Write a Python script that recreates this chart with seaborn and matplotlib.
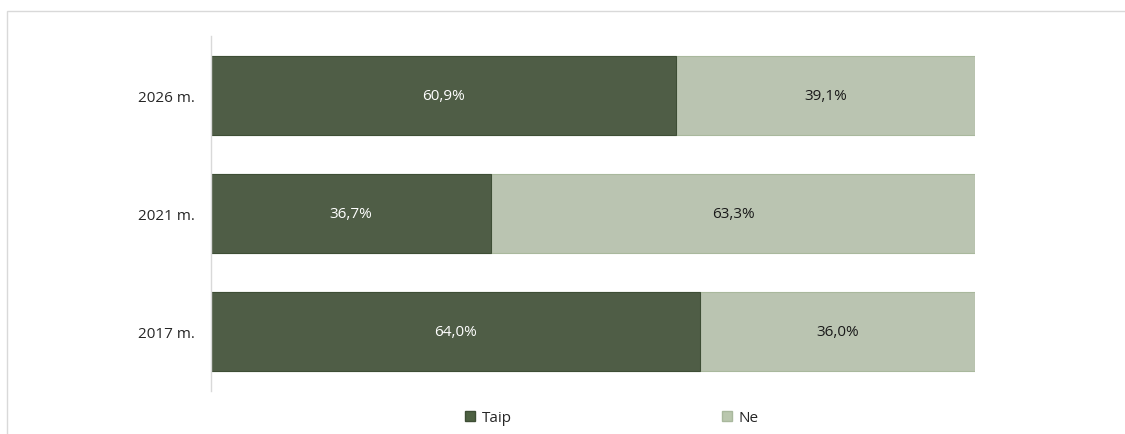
import pandas as pd
import matplotlib.pyplot as plt
import seaborn as sns
from matplotlib.patches import Patch, Rectangle

# Datos (en %)
metai = ['2026 m.', '2021 m.', '2017 m.']
taip = [60.9, 36.7, 64.0]
ne = [39.1, 63.3, 36.0]

tamsi = '#4e6142'
sviesi = '#bac7ae'

df = pd.DataFrame({'Metai': metai, 'Taip': taip, 'Ne': ne})
df['Viso'] = df['Taip'] + df['Ne']

sns.set_style('white')
plt.rcParams['font.family'] = ['Open Sans', 'DejaVu Sans']

fig = plt.figure(figsize=(11.25, 4.35), dpi=100)
ax = fig.add_axes([0.1876, 0.0989, 0.6791, 0.816])

# Apilamos: primero el total (Ne), luego Taip encima
sns.barplot(data=df, y='Metai', x='Viso', color=sviesi, orient='h', width=0.667,
            edgecolor='#a9b89d', linewidth=0.8, ax=ax)
sns.barplot(data=df, y='Metai', x='Taip', color=tamsi, orient='h', width=0.667,
            edgecolor='#3e4e35', linewidth=0.8, ax=ax)

for i, (t, n) in enumerate(zip(taip, ne)):
    ax.text(t / 2, i, f'{t:.1f}%'.replace('.', ','), ha='center', va='center',
            color='white', fontsize=11)
    ax.text(t + n / 2, i, f'{n:.1f}%'.replace('.', ','), ha='center', va='center',
            color='#1a1a1a', fontsize=11)

ax.set_xlim(0, 100)
ax.set_ylim(2.5, -0.5)
ax.set_xlabel('')
ax.set_ylabel('')
ax.set_xticks([])
ax.tick_params(axis='y', length=0, pad=12, labelsize=11, labelcolor='#262626')
for s in ['top', 'right', 'bottom']:
    ax.spines[s].set_visible(False)
ax.spines['left'].set_color('#d9d9d9')
ax.spines['left'].set_linewidth(1)

# Marco del gráfico
fig.patches.append(Rectangle((7 / 1125, -0.1), 1.2, 1 - 12 / 435 + 0.1,
                             transform=fig.transFigure, fill=False,
                             edgecolor='#d9d9d9', linewidth=1))

handles = [Patch(facecolor=tamsi, edgecolor='#3e4e35', label='Taip'),
           Patch(facecolor=sviesi, edgecolor='#a9b89d', label='Ne')]
fig.legend(handles=handles, loc='center', bbox_to_anchor=(0.544, 1 - 419 / 435),
           ncol=2, frameon=False, fontsize=11, handlelength=0.65, handleheight=0.65,
           handletextpad=0.4, columnspacing=13.8)

fig.savefig('out.png', dpi=100)
